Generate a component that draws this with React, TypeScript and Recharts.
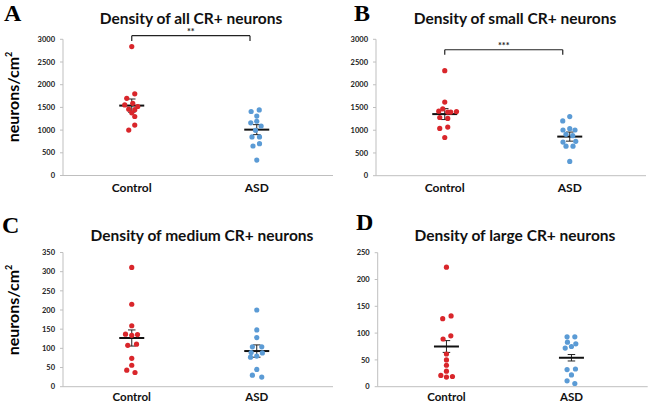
import React from "react";
import { ScatterChart, Scatter, XAxis, YAxis, ReferenceLine } from "recharts";

const categories = ["Control", "ASD"];

// A: all CR+ neurons
const allControl = [2840, 1800, 1700, 1590, 1555, 1520, 1460, 1450, 1380, 1300, 1110, 1000];
const allControlX = [0, 0.024, -0.04, 0.008, -0.056, 0.048, -0.024, 0.024, 0, 0.024, 0.024, -0.024];
const allAsd = [1445, 1410, 1310, 1195, 1160, 1090, 995, 850, 850, 700, 650, 340];
const allAsdX = [0.02, -0.045, 0, 0, -0.048, 0.035, -0.01, -0.038, 0.022, 0.022, -0.03, 0];
const allMean = [1540, 1010];
const allSem = [145, 110];
const allTicks = [0, 500, 1000, 1500, 2000, 2500, 3000];

// B: small CR+ neurons
const smallControl = [2310, 1620, 1470, 1420, 1400, 1400, 1410, 1280, 1260, 1070, 1040, 840];
const smallControlX = [0, 0, -0.016, -0.048, 0.024, 0.048, 0.094, -0.04, 0.024, 0.024, -0.04, 0];
const smallAsd = [1300, 1205, 1005, 1035, 1005, 910, 880, 740, 755, 650, 650, 315];
const smallAsdX = [0, -0.056, -0.054, 0, 0.042, -0.03, 0.024, -0.054, 0.048, -0.03, 0.026, 0];
const smallMean = [1355, 860];
const smallSem = [120, 100];
const smallTicks = [0, 500, 1000, 1500, 2000, 2500, 3000];

// C: medium CR+ neurons
const mediumControl = [311, 215, 159, 137, 136, 134, 111, 108, 74, 56, 43, 37];
const mediumControlX = [0, 0, 0, -0.05, 0.046, 0, 0.038, -0.032, 0, 0, -0.04, 0.026];
const mediumAsd = [200, 148, 128, 104, 104, 89, 88, 80, 77, 45, 30, 25];
const mediumAsdX = [0, 0, 0, -0.035, 0.04, -0.045, 0.045, 0, -0.05, 0, -0.035, 0.04];
const mediumMean = [127, 93];
const mediumSem = [21, 16];
const mediumTicks = [0, 50, 100, 150, 200, 250, 300, 350];

// D: large CR+ neurons
const largeControl = [223, 132, 127, 95, 89, 61, 50, 40, 29, 21, 18, 19];
const largeControlX = [0, 0.037, -0.03, 0.035, -0.027, 0, 0, 0, 0, -0.045, 0, 0.048];
const largeAsd = [93, 93, 83, 80, 72, 75, 32, 33, 22, 11, 6];
const largeAsdX = [-0.035, 0.027, -0.032, 0.035, -0.05, 0, -0.035, 0.032, 0, -0.035, 0.027];
const largeMean = [75, 54];
const largeSem = [11, 6];
const largeTicks = [0, 50, 100, 150, 200, 250];

const RED = "#d9262b";
const BLUE = "#5b9bd5";
const AXIS = "#bfbfbf";
const FONT = "Lato, 'Open Sans', sans-serif";

const toPoints = (values: number[], spread: number[], center: number) =>
  values.map((v, i) => ({ x: center + spread[i], y: v }));

const dot = (color: string) => (props: any) => <circle cx={props.cx} cy={props.cy} r={2.6} fill={color} />;

interface PanelProps {
  letter: string;
  title: string;
  control: number[];
  controlX: number[];
  asd: number[];
  asdX: number[];
  mean: number[];
  sem: number[];
  ticks: number[];
  stars?: string;
  bracket?: number[]; // [y of bar, y of legs, right x]
  left: number;
  top: number;
  axisX: number;
  plotTop: number;
  plotBottom: number;
  titleX: number;
  titleY: number;
  letterX: number;
  letterY: number;
  yLabel?: number;
  catMargin: number;
  catSize: number;
}

function Panel(p: PanelProps) {
  const ctrl = toPoints(p.control, p.controlX, 1);
  const asd = toPoints(p.asd, p.asdX, 2);
  const width = 340;
  const height = 220;
  const yAxisW = 40;
  const mTop = p.plotTop - p.top;
  const mBottom = height - (p.plotBottom - p.top) - 30;
  const mLeft = p.axisX - p.left - yAxisW;
  const mRight = width - (p.axisX - p.left) - 270;

  return (
    <>
      <div style={{ position: "absolute", left: p.left, top: p.top, fontFamily: FONT }}>
        <ScatterChart width={width} height={height} margin={{ top: mTop, right: mRight, bottom: mBottom, left: mLeft }}>
          <XAxis
            type="number"
            dataKey="x"
            domain={[0.45, 2.61]}
            ticks={[1, 2]}
            interval={0}
            tickFormatter={(v: number) => categories[v - 1]}
            tickLine={false}
            tickMargin={p.catMargin}
            axisLine={{ stroke: AXIS }}
            tick={{ fontSize: p.catSize, fontWeight: 700, fill: "#111" }}
          />
          <YAxis
            type="number"
            dataKey="y"
            domain={[0, p.ticks[p.ticks.length - 1]]}
            ticks={p.ticks}
            interval={0}
            width={yAxisW}
            tickSize={3}
            tickMargin={5}
            tickLine={{ stroke: AXIS }}
            axisLine={{ stroke: AXIS }}
            tick={{ fontSize: 7.5, fontWeight: 700, fill: "#222" }}
          />
          <Scatter data={ctrl} fill={RED} shape={dot(RED)} isAnimationActive={false} />
          <Scatter data={asd} fill={BLUE} shape={dot(BLUE)} isAnimationActive={false} />
          {p.mean.map((m, i) => {
            const c = i + 1;
            const s = p.sem[i];
            return (
              <React.Fragment key={i}>
                <ReferenceLine segment={[{ x: c, y: m - s }, { x: c, y: m + s }]} stroke="#222" strokeWidth={1} ifOverflow="visible" />
                <ReferenceLine segment={[{ x: c - 0.03, y: m + s }, { x: c + 0.03, y: m + s }]} stroke="#222" strokeWidth={1} ifOverflow="visible" />
                <ReferenceLine segment={[{ x: c - 0.03, y: m - s }, { x: c + 0.03, y: m - s }]} stroke="#222" strokeWidth={1} ifOverflow="visible" />
                <ReferenceLine segment={[{ x: c - 0.1, y: m }, { x: c + 0.1, y: m }]} stroke="#111" strokeWidth={2} ifOverflow="visible" />
              </React.Fragment>
            );
          })}
          {p.bracket && (
            <>
              <ReferenceLine
                segment={[{ x: 1, y: p.bracket[0] }, { x: p.bracket[2], y: p.bracket[0] }]}
                stroke="#222"
                strokeWidth={1.2}
                ifOverflow="visible"
                label={{ value: p.stars, position: "top", offset: 1, fontSize: 9, fontWeight: 700, fill: "#222" }}
              />
              <ReferenceLine segment={[{ x: 1, y: p.bracket[0] }, { x: 1, y: p.bracket[1] }]} stroke="#222" strokeWidth={1.2} ifOverflow="visible" />
              <ReferenceLine segment={[{ x: p.bracket[2], y: p.bracket[0] }, { x: p.bracket[2], y: p.bracket[1] }]} stroke="#222" strokeWidth={1.2} ifOverflow="visible" />
            </>
          )}
        </ScatterChart>
      </div>
      <div
        style={{
          position: "absolute",
          left: p.titleX,
          top: p.titleY,
          transform: "translate(-50%, -50%)",
          whiteSpace: "nowrap",
          fontFamily: FONT,
          fontWeight: 700,
          fontSize: 15.5,
          color: "#111",
        }}
      >
        {p.title}
      </div>
      <div
        style={{
          position: "absolute",
          left: p.letterX,
          top: p.letterY,
          fontFamily: "'Liberation Serif', serif",
          fontWeight: 700,
          fontSize: 24,
          lineHeight: "normal",
          color: "#000",
        }}
      >
        {p.letter}
      </div>
      {p.yLabel !== undefined && (
        <div
          style={{
            position: "absolute",
            left: 12,
            top: p.yLabel,
            transform: "translate(-50%, -50%) rotate(-90deg)",
            whiteSpace: "nowrap",
            fontFamily: FONT,
            fontWeight: 700,
            fontSize: 16,
            color: "#000",
          }}
        >
          neurons/cm<sup style={{ fontSize: 9 }}>2</sup>
        </div>
      )}
    </>
  );
}

export default function App() {
  return (
    <div style={{ position: "absolute", left: 0, top: 0, width: 659, height: 404, overflow: "hidden", background: "#fff" }}>
      <Panel
        letter="A"
        title="Density of all CR+ neurons"
        control={allControl}
        controlX={allControlX}
        asd={allAsd}
        asdX={allAsdX}
        mean={allMean}
        sem={allSem}
        ticks={allTicks}
        stars="**"
        bracket={[3080, 2960, 1.946]}
        left={0}
        top={0}
        axisX={63}
        plotTop={39.3}
        plotBottom={175.5}
        titleX={191}
        titleY={18}
        letterX={4}
        letterY={0}
        yLabel={97}
        catMargin={2}
        catSize={12}
      />
      <Panel
        letter="B"
        title="Density of small CR+ neurons"
        control={smallControl}
        controlX={smallControlX}
        asd={smallAsd}
        asdX={smallAsdX}
        mean={smallMean}
        sem={smallSem}
        ticks={smallTicks}
        stars="***"
        bracket={[2770, 2660, 1.944]}
        left={330}
        top={0}
        axisX={376}
        plotTop={39.3}
        plotBottom={175.7}
        titleX={515}
        titleY={18}
        letterX={354}
        letterY={0}
        catMargin={2}
        catSize={12}
      />
      <Panel
        letter="C"
        title="Density of medium CR+ neurons"
        control={mediumControl}
        controlX={mediumControlX}
        asd={mediumAsd}
        asdX={mediumAsdX}
        mean={mediumMean}
        sem={mediumSem}
        ticks={mediumTicks}
        left={0}
        top={200}
        axisX={63}
        plotTop={252.5}
        plotBottom={386.7}
        titleX={202}
        titleY={235}
        letterX={2}
        letterY={212}
        yLabel={310}
        catMargin={0}
        catSize={11.5}
      />
      <Panel
        letter="D"
        title="Density of large CR+ neurons"
        control={largeControl}
        controlX={largeControlX}
        asd={largeAsd}
        asdX={largeAsdX}
        mean={largeMean}
        sem={largeSem}
        ticks={largeTicks}
        left={330}
        top={200}
        axisX={377.7}
        plotTop={252.7}
        plotBottom={386.7}
        titleX={515}
        titleY={235}
        letterX={356}
        letterY={209}
        catMargin={0}
        catSize={11.5}
      />
    </div>
  );
}
